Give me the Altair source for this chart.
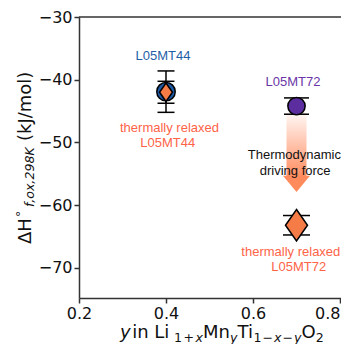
import altair as alt
import pandas as pd

# ---------------- data ----------------
samples = ["L05MT44", "L05MT72"]
y_frac = [0.4, 0.7]
dh_orig = [-41.9, -44.2]          # circles
dh_orig_err = [3.3, 1.3]
dh_relax = [-42.0, -63.2]         # diamonds (thermally relaxed)
dh_relax_err = [1.75, 1.55]
orig_colors = ["#1f5aa6", "#5b2d9e"]
relax_color = "#f57c47"

x_ticks = [0.2, 0.4, 0.6, 0.8]
y_ticks = [-30, -40, -50, -60, -70]

ann_text = ["L05MT44", "thermally relaxed", "L05MT44", "L05MT72",
            "Thermodynamic", "driving force", "thermally relaxed", "L05MT72"]
ann_x = [0.393, 0.408, 0.404, 0.692, 0.695, 0.697, 0.687, 0.705]
ann_y = [-36.2, -47.7, -50.1, -40.3, -52.0, -54.5, -67.5, -69.9]
ann_color = ["#1f5fa8", "#ff6347", "#ff6347", "#6a35a8",
             "#111111", "#111111", "#ff6347", "#ff6347"]

arrow_x = [0.7]
arrow_top = [-45.0]
arrow_end = [-55.5]
arrow_head = [-56.6]

# ---------------- frames ----------------
pts = pd.DataFrame({
    "sample": samples, "x": y_frac,
    "yo": dh_orig, "eo": dh_orig_err, "color": orig_colors,
    "yr": dh_relax, "er": dh_relax_err,
})
pts["olo"] = pts["yo"] - pts["eo"]
pts["ohi"] = pts["yo"] + pts["eo"]
pts["rlo"] = pts["yr"] - pts["er"]
pts["rhi"] = pts["yr"] + pts["er"]

ann = pd.DataFrame({"t": ann_text, "x": ann_x, "y": ann_y, "c": ann_color})
arr = pd.DataFrame({"x": arrow_x, "top": arrow_top, "end": arrow_end, "head": arrow_head})

W, H = 262, 281
AX = "#333333"
xs = alt.Scale(domain=[0.2, 0.8023], nice=False, zero=False, padding=0)
ys = alt.Scale(domain=[-74.8, -30], nice=False, zero=False, padding=0)
xaxis = alt.Axis(values=x_ticks, format=".1f", title=None, grid=False,
                 labelAlign=alt.condition("datum.value > 0.75", alt.value("right"),
                                          alt.value("center")))
yaxis = alt.Axis(values=y_ticks, format="d", title=None, grid=False)


def X(f):
    return alt.X(f + ":Q", scale=xs, axis=xaxis)


def Y(f):
    return alt.Y(f + ":Q", scale=ys, axis=yaxis)


base = alt.Chart(pts)
layers = []

# gradient arrow (behind everything)
grad = alt.Gradient(
    gradient="linear",
    stops=[alt.GradientStop(color="rgba(255,140,95,0.03)", offset=0),
           alt.GradientStop(color="rgba(255,140,95,1)", offset=1)],
    x1=0, x2=0, y1=0, y2=1,
)
layers.append(alt.Chart(arr).mark_bar(width=20, fill=grad, strokeWidth=0)
              .encode(x=X("x"), y=Y("top"), y2="end"))
layers.append(alt.Chart(arr).mark_point(shape="M-1,-0.6L1,-0.6L0,0.6Z", size=729,
                                        filled=True, fill="#ff8a5c", opacity=1,
                                        strokeWidth=0)
              .encode(x=X("x"), y=Y("head")))


def errbar(sample, lo, hi, cap):
    d = base.transform_filter(alt.datum.sample == sample)
    return [
        d.mark_rule(color="black", strokeWidth=1.5).encode(x=X("x"), y=Y(lo), y2=hi),
        d.mark_tick(orient="horizontal", size=cap, thickness=1.5, color="black", opacity=1)
         .encode(x=X("x"), y=Y(lo)),
        d.mark_tick(orient="horizontal", size=cap, thickness=1.5, color="black", opacity=1)
         .encode(x=X("x"), y=Y(hi)),
    ]


def circle(sample, size):
    return (base.transform_filter(alt.datum.sample == sample)
            .mark_point(shape="circle", filled=True, size=size, stroke="black",
                        strokeWidth=1.5, opacity=1)
            .encode(x=X("x"), y=Y("yo"), fill=alt.Fill("color:N", scale=None)))


def diamond(sample, size):
    return (base.transform_filter(alt.datum.sample == sample)
            .mark_point(shape="M0,-1L0.7,0L0,1L-0.7,0Z", filled=True, size=size,
                        fill=relax_color, stroke="black", strokeWidth=1.5, opacity=1)
            .encode(x=X("x"), y=Y("yr")))


layers += errbar("L05MT44", "olo", "ohi", 17)
layers.append(circle("L05MT44", 340))
layers += errbar("L05MT72", "olo", "ohi", 25)
layers.append(circle("L05MT72", 300))
layers += errbar("L05MT44", "rlo", "rhi", 17)
layers.append(diamond("L05MT44", 342))
layers += errbar("L05MT72", "rlo", "rhi", 27)
layers.append(diamond("L05MT72", 990))

# annotations
layers.append(alt.Chart(ann).mark_text(font="Liberation Sans", fontSize=13,
                                       align="center", baseline="middle")
              .encode(x=X("x"), y=Y("y"), text="t:N", color=alt.Color("c:N", scale=None)))

# top spine
layers.append(alt.Chart(pd.DataFrame({"a": [0]})).mark_rule(color=AX, strokeWidth=1.5)
              .encode(x=alt.value(0), x2=alt.value(W), y=alt.value(0)))

one = pd.DataFrame({"a": [0]})


def seg(s, x, y, size, italic=False, angle=0):
    return (alt.Chart(one).mark_text(text=s, font="DejaVu Sans", fontSize=size,
                                     fontStyle="italic" if italic else "normal",
                                     angle=angle, align="left", baseline="alphabetic",
                                     color="#111111")
            .encode(x=alt.value(x), y=alt.value(y)))


# DejaVu Sans advance widths (em) for laying out the math-like titles
EM = {" ": 0.318, "i": 0.278, "n": 0.634, "L": 0.557, "M": 0.863, "T": 0.611,
      "O": 0.787, "1": 0.636, "2": 0.636, "+": 0.838, "\u2212": 0.838,
      "x": 0.592, "y": 0.592}


def wid(s, f):
    return sum(EM.get(c, 0.6) for c in s) * f


# x-axis title: y in Li_{1+x}Mn_yTi_{1-x-y}O_2  (gap = extra space before piece)
MF, SF = 18, 12.6
MB, SB = 321, 325
xparts = [("y", "m", True, 0), (" in Li", "m", False, 1.5),
          ("1", "s", False, -1), ("+", "s", False, 1.5), ("x", "s", True, 1.5),
          ("Mn", "m", False, 0), ("y", "s", True, 0), ("Ti", "m", False, 0),
          ("1", "s", False, 0), ("\u2212", "s", False, 1), ("x", "s", True, 1),
          ("\u2212", "s", False, 1), ("y", "s", True, 1),
          ("O", "m", False, 0), ("2", "s", False, 0)]
cx = 120 - 79
for s, kind, it, gap in xparts:
    f = MF if kind == "m" else SF
    cx += gap
    layers.append(seg(s, cx, MB if kind == "m" else SB, f, it))
    cx += wid(s, f)

# y-axis title: ΔH°_{f,ox,298K} (kJ/mol), rotated
yt = [("\u0394H", -48, 227, 18, False), ("\u00b0", -54, 200, 12.6, False),
      ("f,ox,298K", -45, 190, 12.6, True), ("(kJ/mol)", -48, 124, 18, False)]
for s, x, y, f, it in yt:
    layers.append(seg(s, x, y, f, it, angle=270))

chart = (alt.layer(*layers)
         .properties(width=W, height=H, autosize=alt.AutoSizeParams(type="none"),
                     padding={"left": 71, "top": 9, "right": 0, "bottom": 46})
         .configure_view(stroke=None)
         .configure_axis(domainColor=AX, domainWidth=1.5, tickColor=AX, tickWidth=1.5,
                         tickSize=5, labelFont="DejaVu Sans", labelFontSize=16,
                         labelColor="#111111", labelPadding=2))

chart.save("out.html", embed_options={"renderer": "svg", "actions": False})
